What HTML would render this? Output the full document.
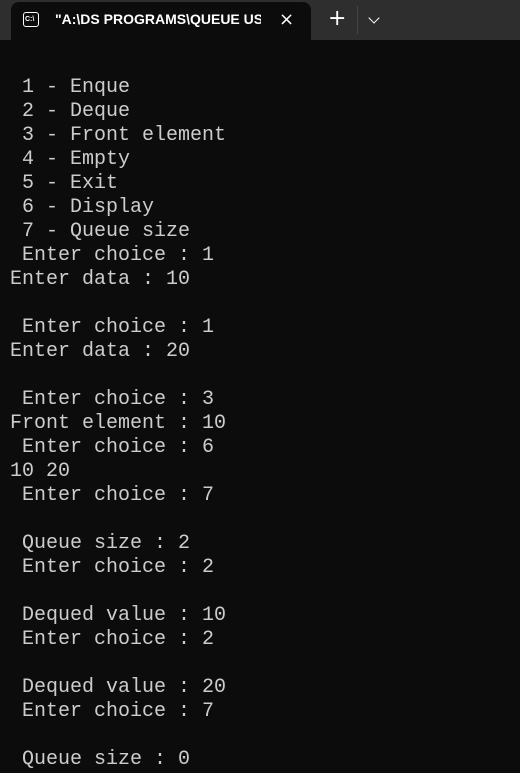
<!DOCTYPE html>
<html><head><meta charset="utf-8"><style>
html,body{margin:0;padding:0;width:520px;height:773px;overflow:hidden;background:#0c0c0c;}
.bar{position:absolute;left:0;top:0;width:520px;height:40px;background:#2e2e2e;}
.tab{position:absolute;left:11px;top:2px;width:300px;height:38px;background:#0c0c0c;border-radius:8px 8px 0 0;}
.ttl{position:absolute;left:55px;top:11px;width:206px;overflow:hidden;white-space:nowrap;color:#fff;font:600 14px "Liberation Sans",sans-serif;}
.icon{position:absolute;left:23px;top:12px;width:16px;height:15px;border:1.5px solid #fff;border-radius:3px;box-sizing:border-box;}
.icon span{position:absolute;left:1px;top:3px;color:#fff;font:bold 7px "Liberation Sans",sans-serif;}
.x{position:absolute;left:279px;top:9px;color:#fff;font:18px "DejaVu Sans",sans-serif;font-weight:normal;}
.plus{position:absolute;left:328px;top:6px;color:#fff;font:22px "DejaVu Sans",sans-serif;}
.div{position:absolute;left:357px;top:6px;width:1px;height:28px;background:#444;}
.chev{position:absolute;left:370px;top:14px;width:7px;height:7px;border-right:1.5px solid #fff;border-bottom:1.5px solid #fff;transform:rotate(45deg);}
pre{position:absolute;left:10px;top:76px;margin:0;color:#cccccc;font:20px/24px "Liberation Mono","DejaVu Sans Mono",monospace;}
</style></head><body>
<div class="bar"></div><div class="tab"></div>
<div class="icon"><span>C:\</span></div>
<div class="ttl">"A:\DS PROGRAMS\QUEUE USING</div>
<div class="x">×</div><div class="plus">+</div><div class="div"></div><div class="chev"></div>
<pre> 1 - Enque
 2 - Deque
 3 - Front element
 4 - Empty
 5 - Exit
 6 - Display
 7 - Queue size
 Enter choice : 1
Enter data : 10

 Enter choice : 1
Enter data : 20

 Enter choice : 3
Front element : 10
 Enter choice : 6
10 20
 Enter choice : 7

 Queue size : 2
 Enter choice : 2

 Dequed value : 10
 Enter choice : 2

 Dequed value : 20
 Enter choice : 7

 Queue size : 0</pre>
</body></html>
